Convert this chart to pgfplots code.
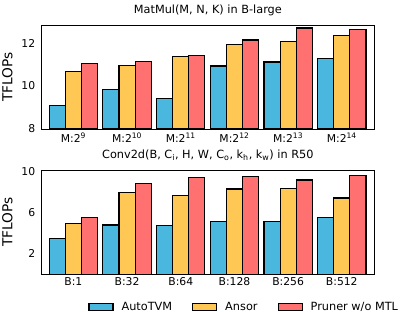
\documentclass[border=0pt]{standalone}
\usepackage{pgfplots}
\pgfplotsset{compat=1.18}
\usepackage{fontspec}
\setmainfont{DejaVu Sans}
\definecolor{cblue}{RGB}{73,183,222}
\definecolor{cyellow}{RGB}{255,200,85}
\definecolor{cred}{RGB}{255,112,112}
\begin{document}
\begin{tikzpicture}
\pgfplotsset{
  mystyle/.style={
    scale only axis,
    width=332.3pt, height=104pt,
    anchor=south west,
    ybar=0pt, bar width=0.3,
    xmin=-0.59, xmax=5.6,
    xtick={0,1,2,3,4,5},
    major tick length=0pt,
    axis line style={line width=0.9pt, black},
    tick label style={font=\fontsize{10.8}{12}\selectfont},
    /pgf/number format/assume math mode=true,
    ylabel={TFLOPs},
    ylabel style={font=\fontsize{13.7}{15}\selectfont, yshift=2pt},
    title style={font=\fontsize{11.3}{13}\selectfont},
    every axis plot/.append style={draw=black, line width=1.1pt},
    yticklabel style={xshift=-3pt},
  }
}
\begin{axis}[mystyle, at={(41.7pt,183pt)},
  ymin=8, ymax=12.84, ytick={8,10,12},
  xticklabels={M:2\textsuperscript{9},M:2\textsuperscript{10},M:2\textsuperscript{11},M:2\textsuperscript{12},M:2\textsuperscript{13},M:2\textsuperscript{14}},
  title={MatMul(M, N, K) in B-large},
  ]
\addplot[fill=cblue] coordinates {(0,9.08) (1,9.83) (2,9.40) (3,10.93) (4,11.12) (5,11.27)};
\addplot[fill=cyellow] coordinates {(0,10.68) (1,10.96) (2,11.36) (3,11.95) (4,12.08) (5,12.37)};
\addplot[fill=cred] coordinates {(0,11.05) (1,11.13) (2,11.40) (3,12.14) (4,12.70) (5,12.62)};
\end{axis}
\begin{axis}[mystyle, at={(41.7pt,37.7pt)},
  ymin=0, ymax=10.1, ytick={2,6,10},
  xticklabels={B:1,B:32,B:64,B:128,B:256,B:512},
  title={Conv2d(B, C\textsubscript{i}, H, W, C\textsubscript{o}, k\textsubscript{h}, k\textsubscript{w}) in R50},
  legend columns=3,
  legend image code/.code={\draw[#1, line width=1.1pt] (0pt,-3.8pt) rectangle (24pt,3.8pt);},
  legend style={at={(0.140,-0.315)}, anchor=west, draw=none, fill=none,
    inner sep=0pt, nodes={inner sep=0pt},
    font=\fontsize{11.3}{13}\selectfont,
    /tikz/every odd column/.append style={column sep=8pt},
    /tikz/every even column/.append style={column sep=20pt}},
  ]
\addplot[fill=cblue] coordinates {(0,3.46) (1,4.79) (2,4.76) (3,5.11) (4,5.15) (5,5.53)};
\addplot[fill=cyellow] coordinates {(0,4.95) (1,7.96) (2,7.63) (3,8.28) (4,8.31) (5,7.41)};
\addplot[fill=cred] coordinates {(0,5.53) (1,8.83) (2,9.38) (3,9.51) (4,9.16) (5,9.61)};
\legend{AutoTVM,Ansor,Pruner w/o MTL}
\end{axis}
\pgfresetboundingbox
\path (0,0) rectangle (415pt,312pt);
\end{tikzpicture}
\end{document}
